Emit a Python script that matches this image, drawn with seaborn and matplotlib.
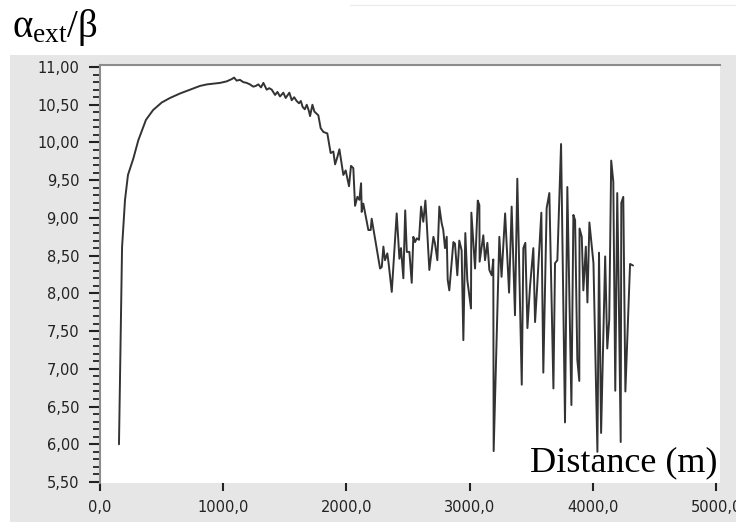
import matplotlib
matplotlib.use("Agg")
import matplotlib.pyplot as plt
from matplotlib.patches import Rectangle
from matplotlib.ticker import MultipleLocator, FuncFormatter
import seaborn as sns

# distance (m) and alpha_ext/beta ratio
distance = [154, 179, 203, 227, 271, 311, 373, 431, 501, 568,
            650, 731, 812, 868, 918, 975, 1028, 1069, 1088, 1109,
            1136, 1163, 1190, 1217, 1244, 1265, 1285, 1307, 1326, 1353,
            1374, 1394, 1421, 1440, 1461, 1488, 1507, 1537, 1556, 1576,
            1596, 1615, 1630, 1645, 1662, 1678, 1695, 1705, 1724, 1740,
            1772, 1791, 1813, 1845, 1872, 1894, 1908,
            1927, 1943, 1975, 1994, 2021, 2037, 2056, 2070, 2089, 2105,
            2119, 2124, 2137, 2178, 2197, 2205, 2273, 2287, 2300, 2313,
            2332, 2341, 2368, 2408, 2430, 2443, 2462, 2477, 2490, 2511,
            2530, 2543, 2557, 2571, 2589, 2606, 2624, 2641, 2652, 2673,
            2706, 2719, 2738, 2754, 2773, 2786, 2800, 2814, 2822, 2835,
            2868, 2881, 2900, 2916, 2935, 2949, 2965, 2981, 3011, 3014,
            3044, 3066, 3079, 3081, 3111, 3125, 3144, 3160, 3179, 3192,
            3195, 3241, 3259, 3288, 3320, 3341, 3368, 3387, 3423, 3436,
            3452, 3469, 3490, 3517, 3531, 3545, 3582, 3598, 3625, 3647,
            3680, 3693, 3712, 3742, 3774, 3793, 3826, 3842, 3856, 3874,
            3890, 3892, 3910, 3923, 3943, 3956, 3972, 4005, 4037, 4050,
            4067, 4100, 4117, 4133, 4149, 4166, 4182, 4198, 4210, 4226,
            4231, 4247, 4264, 4302, 4326]

ratio = [6.00, 8.61, 9.24, 9.57, 9.79, 10.03, 10.30, 10.43, 10.53, 10.59,
         10.65, 10.70, 10.75, 10.77, 10.78, 10.79, 10.81, 10.84, 10.86, 10.82,
         10.83, 10.80, 10.79, 10.77, 10.74, 10.75, 10.77, 10.73, 10.79, 10.70,
         10.72, 10.70, 10.63, 10.67, 10.61, 10.66, 10.59, 10.66, 10.56, 10.60,
         10.55, 10.52, 10.55, 10.47, 10.44, 10.50, 10.42, 10.35, 10.50, 10.41,
         10.36, 10.19, 10.14, 10.12, 9.86, 9.88, 9.71,
         9.81, 9.91, 9.57, 9.63, 9.42, 9.69, 9.66, 9.16, 9.28, 9.24,
         9.46, 9.08, 9.19, 8.84, 8.84, 8.99, 8.33, 8.35, 8.62, 8.44,
         8.53, 8.42, 8.02, 9.06, 8.46, 8.60, 8.20, 9.10, 8.55, 8.55,
         8.14, 8.75, 8.68, 8.73, 8.71, 9.15, 8.95, 9.23, 8.93, 8.31,
         8.75, 8.66, 8.44, 9.15, 8.93, 8.84, 8.60, 8.75, 8.18, 8.04,
         8.68, 8.66, 8.24, 8.70, 8.57, 7.38, 8.80, 8.18, 7.80, 9.07,
         8.33, 9.23, 9.17, 8.42, 8.77, 8.44, 8.67, 8.31, 8.24, 8.45,
         5.91, 8.75, 8.22, 9.06, 8.01, 9.15, 7.71, 9.52, 6.79, 8.60,
         8.67, 7.54, 8.09, 8.60, 7.62, 8.00, 9.07, 6.95, 9.13, 9.33,
         6.74, 8.40, 8.44, 9.98, 6.29, 9.41, 6.52, 9.04, 8.97, 7.12,
         6.84, 8.86, 8.75, 8.04, 8.62, 7.88, 8.94, 8.40, 5.90, 8.54,
         6.15, 8.49, 7.27, 7.65, 9.76, 9.48, 6.71, 9.33, 8.04, 6.03,
         9.20, 9.28, 6.70, 8.39, 8.37]

sns.set_style("ticks")
plt.rcParams['mathtext.fontset'] = 'custom'
plt.rcParams['mathtext.rm'] = 'Liberation Serif'
plt.rcParams['mathtext.it'] = 'Liberation Serif'
plt.rcParams['font.family'] = ['DejaVu Sans']

W, H = 736, 523
fig = plt.figure(figsize=(W / 100, H / 100), dpi=100, facecolor='white')

# grey panel behind the plot
fig.patches.append(Rectangle((10 / W, 1 - 522 / H), (W - 10) / W, (522 - 55) / H,
                             transform=fig.transFigure, facecolor='#e6e6e6',
                             edgecolor='none', zorder=-10))
# faint rule at the top
fig.add_artist(plt.Line2D([350 / W, 1], [1 - 5 / H, 1 - 5 / H],
                          color='#ececec', linewidth=1, transform=fig.transFigure))

ax = fig.add_axes([100 / W, 1 - 483 / H, 620 / W, (483 - 65) / H])
ax.set_zorder(1)
ax.set_facecolor('white')

sns.lineplot(x=distance, y=ratio, ax=ax, color='#333333', linewidth=1.4)

ax.set_xlim(0, 5032)
ax.set_ylim(5.487, 11.027)

ax.xaxis.set_major_locator(MultipleLocator(1000))
ax.yaxis.set_major_locator(MultipleLocator(0.5))
ax.yaxis.set_minor_locator(MultipleLocator(0.1))
ax.xaxis.set_major_formatter(FuncFormatter(lambda v, p: f"{v:.1f}".replace('.', ',')))
ax.yaxis.set_major_formatter(FuncFormatter(lambda v, p: f"{v:.2f}".replace('.', ',')))

ax.tick_params(axis='x', which='major', direction='out', length=6, width=1.5,
               color='#222222', labelsize=10.5, labelcolor='#222222', pad=6)
ax.tick_params(axis='y', which='major', direction='out', length=8, width=1.5,
               color='#222222', labelsize=10.5, labelcolor='#222222', pad=7)
ax.tick_params(axis='y', which='minor', direction='out', length=5, width=1.3,
               color='#222222')

for side in ['right', 'bottom']:
    ax.spines[side].set_visible(False)
for side in ['left', 'top']:
    ax.spines[side].set_color('#8c8c8c')
    ax.spines[side].set_linewidth(1.5)

ax.set_xlabel('')
ax.set_ylabel('')

fig.text(12 / W, 1 - 37 / H, r'$\mathrm{α_{ext}/β}$', fontsize=28,
         ha='left', va='baseline', color='black')
fig.text(718 / W, 1 - 471 / H, 'Distance (m)', fontsize=26,
         family=['Liberation Serif', 'DejaVu Serif'],
         ha='right', va='baseline', color='black', zorder=5)

fig.savefig('out.png', dpi=100, facecolor='white')
